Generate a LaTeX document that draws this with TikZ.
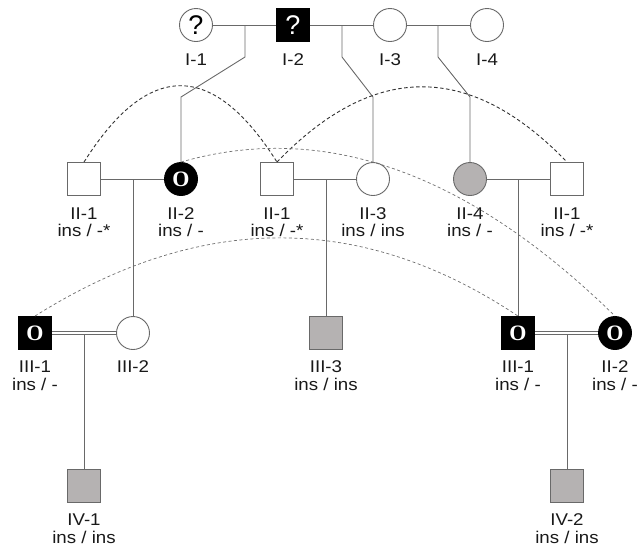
\documentclass[tikz,border=0pt]{standalone}
\usepackage{fontspec}
\setmainfont{Liberation Sans}
\newfontfamily\lblfont[FakeStretch=1.1]{Liberation Sans}
\newfontfamily\ofont{Liberation Serif}
\definecolor{linegray}{RGB}{105,105,105}
\definecolor{fillgray}{RGB}{181,178,178}
\definecolor{txt}{RGB}{25,25,25}
\definecolor{dashdark}{RGB}{50,50,50}
\definecolor{dashlight}{RGB}{110,110,110}
\tikzset{
  shp/.style={draw=linegray, line width=0.9pt, inner sep=0pt, minimum size=33pt, fill=white},
  sq/.style={shp, rectangle},
  ci/.style={shp, circle},
  aff/.style={fill=black, draw=black},
  carr/.style={fill=fillgray},
  qm/.style={font=\fontsize{27}{27}\selectfont},
  om/.style={font=\ofont\bfseries\fontsize{22}{22}\selectfont, text=white},
  lbl/.style={anchor=base, inner sep=0pt, text=txt, font=\lblfont\fontsize{17}{20}\selectfont},
  rel/.style={draw=linegray, line width=0.9pt},
  dbl/.style={draw=linegray, line width=0.7pt, double=white, double distance=2.2pt},
  arcA/.style={draw=dashdark, line width=0.9pt, dash pattern=on 3.5pt off 2.5pt},
  arcB/.style={draw=dashlight, line width=0.7pt, dash pattern=on 3pt off 2.5pt},
}
\begin{document}
\begin{tikzpicture}[x=1pt,y=-1pt]
\useasboundingbox (0,0) rectangle (638,547);

% Generation I
\node[ci, qm] (I1) at (196,25) {?};
\node[sq, aff, qm, text=white] (I2) at (293,25) {?};
\node[ci] (I3) at (390,25) {};
\node[ci] (I4) at (487,25) {};
\node[lbl] (tI1) at (196,65) {I-1};
\node[lbl] (tI2) at (293,65) {I-2};
\node[lbl] (tI3) at (390,65) {I-3};
\node[lbl] (tI4) at (487,65) {I-4};

% Generation II
\node[sq] (II1a) at (84,179) {};
\node[ci, aff, om] (II2) at (181,179) {O};
\node[sq] (II1b) at (277,179) {};
\node[ci] (II3) at (373,179) {};
\node[ci, carr] (II4) at (470,179) {};
\node[sq] (II1c) at (567,179) {};
\node[lbl] (nII1a) at (84,219) {II-1};
\node[lbl] (gII1a) at (84,236) {ins / -*};
\node[lbl] (nII2) at (181,219) {II-2};
\node[lbl] (gII2) at (181,236) {ins / -};
\node[lbl] (nII1b) at (277,219) {II-1};
\node[lbl] (gII1b) at (277,236) {ins / -*};
\node[lbl] (nII3) at (373,219) {II-3};
\node[lbl] (gII3) at (373,236) {ins / ins};
\node[lbl] (nII4) at (470,219) {II-4};
\node[lbl] (gII4) at (470,236) {ins / -};
\node[lbl] (nII1c) at (567,219) {II-1};
\node[lbl] (gII1c) at (567,236) {ins / -*};

% Generation III
\node[sq, aff, om] (III1a) at (35,333) {O};
\node[ci] (III2) at (133,333) {};
\node[sq, carr] (III3) at (326,333) {};
\node[sq, aff, om] (III1b) at (518,333) {O};
\node[ci, aff, om] (II2b) at (615,333) {O};
\node[lbl] (nIII1a) at (35,372) {III-1};
\node[lbl] (gIII1a) at (35,390) {ins / -};
\node[lbl] (nIII2) at (133,372) {III-2};
\node[lbl] (nIII3) at (326,372) {III-3};
\node[lbl] (gIII3) at (326,390) {ins / ins};
\node[lbl] (nIII1b) at (518,372) {III-1};
\node[lbl] (gIII1b) at (518,390) {ins / -};
\node[lbl] (nII2b) at (615,372) {II-2};
\node[lbl] (gII2b) at (615,390) {ins / -};

% Generation IV
\node[sq, carr] (IV1) at (84,486) {};
\node[sq, carr] (IV2) at (567,486) {};
\node[lbl] (nIV1) at (84,525.5) {IV-1};
\node[lbl] (gIV1) at (84,543) {ins / ins};
\node[lbl] (nIV2) at (567,525.5) {IV-2};
\node[lbl] (gIV2) at (567,543) {ins / ins};

% Generation I couples and descent
\draw[rel] (I1) -- (I2);
\draw[rel] (I2) -- (I3);
\draw[rel] (I3) -- (I4);
\coordinate (m1) at (245,25);
\coordinate (m1a) at (245,57);
\coordinate (m1b) at (181,97);
\draw[rel] (m1) -- (m1a) -- (m1b) -- (II2);
\coordinate (m2) at (342,25);
\coordinate (m2a) at (342,57);
\coordinate (m2b) at (373,97);
\draw[rel] (m2) -- (m2a) -- (m2b) -- (II3);
\coordinate (m3) at (438,25);
\coordinate (m3a) at (438,57);
\coordinate (m3b) at (470,97);
\draw[rel] (m3) -- (m3a) -- (m3b) -- (II4);

% Generation II couples and descent
\draw[rel] (II1a) -- (II2);
\draw[rel] (II1b) -- (II3);
\draw[rel] (II4) -- (II1c);
\coordinate (m4) at (133,179);
\draw[rel] (m4) -- (III2);
\coordinate (m5) at (326,179);
\draw[rel] (m5) -- (III3);
\coordinate (m6) at (518,179);
\draw[rel] (m6) -- (III1b);

% Generation III couples (consanguineous) and descent
\draw[dbl] (III1a) -- (III2);
\draw[dbl] (III1b) -- (II2b);
\coordinate (m7) at (84,334.5);
\draw[rel] (m7) -- (IV1);
\coordinate (m8) at (567,334.5);
\draw[rel] (m8) -- (IV2);

% identity arcs
\draw[arcA] (II1a.north) .. controls (148.3,60.3) and (212.7,60.3) .. (II1b.north);
\draw[arcA] (II1b.north) .. controls (373.7,61.7) and (470.3,61.7) .. (II1c.north);
\draw[arcB] (II2.north) .. controls (323.7,121) and (467.7,172) .. (II2b.north);
\draw[arcB] (III1a.north) .. controls (200.7,211.8) and (361.7,211.8) .. (III1b.north);
\end{tikzpicture}
\end{document}
